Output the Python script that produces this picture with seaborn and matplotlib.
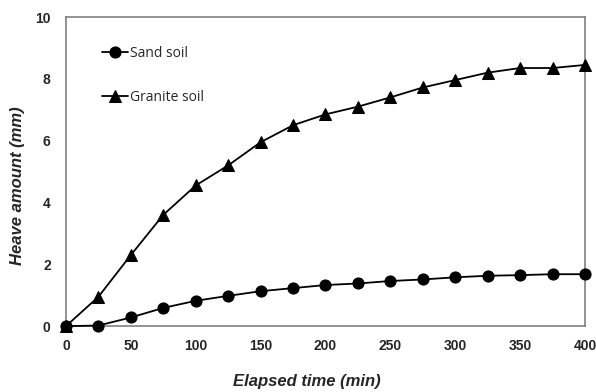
import matplotlib
matplotlib.use("Agg")
import matplotlib.pyplot as plt
import seaborn as sns
import pandas as pd

# Elapsed time (min) and measured frost heave (mm)
elapsed_min = [0, 25, 50, 75, 100, 125, 150, 175, 200, 225, 250, 275, 300, 325, 350, 375, 400]
sand_heave = [0.0, 0.02, 0.28, 0.59, 0.82, 0.98, 1.13, 1.23, 1.33, 1.38, 1.46, 1.51, 1.58, 1.63, 1.65, 1.68, 1.68]
granite_heave = [0.0, 0.95, 2.3, 3.6, 4.55, 5.2, 5.95, 6.5, 6.85, 7.1, 7.4, 7.72, 7.96, 8.2, 8.35, 8.35, 8.45]
series_names = ["Sand soil", "Granite soil"]

x_ticks = [0, 50, 100, 150, 200, 250, 300, 350, 400]
y_ticks = [0, 2, 4, 6, 8, 10]

df = pd.DataFrame({
    "time": elapsed_min * 2,
    "heave": sand_heave + granite_heave,
    "soil": [series_names[0]] * len(elapsed_min) + [series_names[1]] * len(elapsed_min),
})

sns.set_style("white")
plt.rcParams["font.family"] = ["Liberation Sans", "DejaVu Sans"]

fig = plt.figure(figsize=(5.96, 3.92), dpi=100)
ax = fig.add_axes([0.1107, 0.168, 0.8708, 0.7886])

sns.lineplot(
    data=df, x="time", y="heave", hue="soil", style="soil",
    markers={"Sand soil": "o", "Granite soil": "^"}, dashes=False,
    palette={"Sand soil": "black", "Granite soil": "black"},
    markersize=8, linewidth=1.3, markeredgecolor="black",
    ax=ax, legend=True, clip_on=False, zorder=3,
)

ax.set_xlim(0, 400)
ax.set_ylim(0, 10)
ax.set_xticks(x_ticks)
ax.set_yticks(y_ticks)
ax.tick_params(axis="both", direction="in", length=4, width=1, color="#808080",
               labelsize=10)
ax.tick_params(axis="x", pad=9)
ax.tick_params(axis="y", pad=11)
for lab in ax.get_xticklabels() + ax.get_yticklabels():
    lab.set_fontweight("bold")

for side in ["left", "bottom", "right", "top"]:
    ax.spines[side].set_visible(True)
    ax.spines[side].set_color("#808080")
    ax.spines[side].set_linewidth(1.2)

ax.set_xlabel("Elapsed time (min)", fontsize=12, fontweight="bold", style="italic", va="center")
ax.set_ylabel("Heave amount (mm)", fontsize=12, fontweight="bold", style="italic", va="center")
ax.xaxis.set_label_coords(0.465, -0.178)
ax.yaxis.set_label_coords(-0.0925, 0.455)

leg = ax.legend(
    loc="upper left", bbox_to_anchor=(0.045, 0.948), frameon=False,
    handlelength=1.9, handletextpad=0.1, labelspacing=2.1,
    prop={"family": "Open Sans", "size": 10},
)

fig.savefig("out.png", dpi=100)
